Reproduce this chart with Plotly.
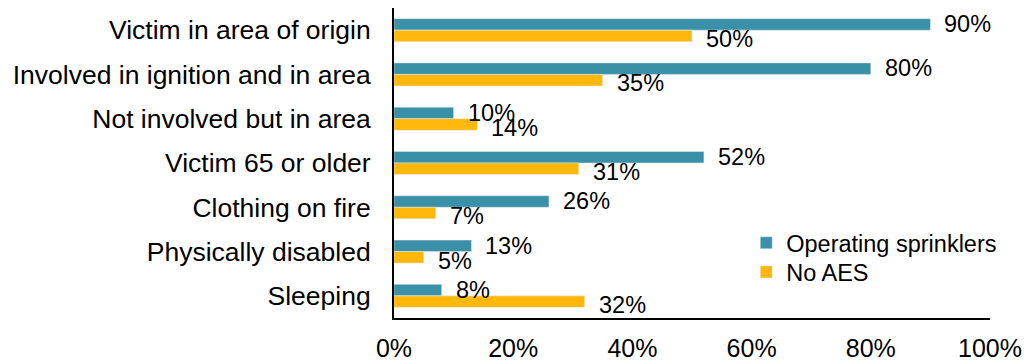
import plotly.graph_objects as go

categories = [
    "Victim in area of origin",
    "Involved in ignition and in area",
    "Not involved but in area",
    "Victim 65 or older",
    "Clothing on fire",
    "Physically disabled",
    "Sleeping",
]
operating_sprinklers = [90, 80, 10, 52, 26, 13, 8]
no_aes = [50, 35, 14, 31, 7, 5, 32]
x_ticks = [0, 20, 40, 60, 80, 100]

TEAL = "#3a90a7"
GOLD = "#ffb70a"
FONT = "Liberation Sans, Arial, sans-serif"

fig = go.Figure()
fig.add_trace(go.Bar(y=categories, x=operating_sprinklers, orientation="h",
                     name="Operating sprinklers", marker_color=TEAL,
                     legend="legend"))
fig.add_trace(go.Bar(y=categories, x=no_aes, orientation="h",
                     name="No AES", marker_color=GOLD, legend="legend2"))

# value labels placed just right of each bar end
n = len(categories)
for vals, off in ((operating_sprinklers, -0.17), (no_aes, 0.17)):
    for i, v in enumerate(vals):
        fig.add_annotation(x=v, y=i + off, yref="y", xref="x", text=f"{v}%",
                           showarrow=False, xanchor="left", yanchor="middle",
                           xshift=12, yshift=-1.5,
                           font=dict(size=23.5, color="#000", family=FONT))

legend_style = dict(xanchor="left", yanchor="middle", font=dict(size=23.5),
                    itemwidth=30, bgcolor="rgba(0,0,0,0)")

fig.update_layout(
    width=1028, height=362,
    margin=dict(l=394, r=38, t=8, b=44, autoexpand=False),
    barmode="group", bargap=0.48, bargroupgap=0,
    plot_bgcolor="white", paper_bgcolor="white",
    font=dict(family=FONT, size=26.5, color="#000"),
    showlegend=True,
    legend=dict(x=0.591, y=0.242, **legend_style),
    legend2=dict(x=0.591, y=0.148, **legend_style),
)
fig.update_yaxes(
    type="category", categoryorder="array", categoryarray=categories,
    range=[n - 0.5, -0.5], showline=True, linecolor="#000", linewidth=2,
    showgrid=False, ticks="", ticklabelstandoff=16, tickfont=dict(size=26.5),
    automargin=False,
)
fig.update_xaxes(
    range=[0, 100], tickvals=x_ticks, ticktext=[f"{t}%" for t in x_ticks],
    showline=True, linecolor="#000", linewidth=2, showgrid=False, ticks="",
    ticklabelstandoff=7, tickfont=dict(size=25), zeroline=False,
    automargin=False,
)

fig.write_html("out.html")
